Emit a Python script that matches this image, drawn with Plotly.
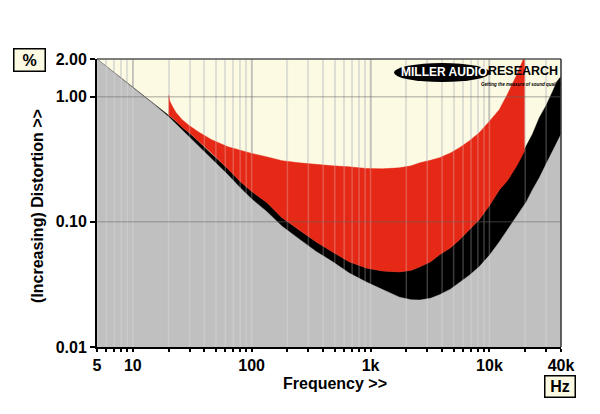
import math
import plotly.graph_objects as go

# ---------------- data ----------------
freq_floor = [5, 6, 8, 10, 12.5, 15, 20, 25, 33, 45, 63, 80, 100, 135, 180, 250, 350, 480,
              660, 920, 1260, 1750, 2200, 2600, 3200, 3800, 4700, 5600, 6800, 8200, 10000,
              12100, 14700, 17900, 20500, 23000, 26300, 30000, 34000, 37000, 40000]
floor_pct = [2.0, 1.73, 1.40, 1.18, 1.0, 0.87, 0.69, 0.56, 0.437, 0.326, 0.238, 0.187, 0.152,
             0.12, 0.092, 0.073, 0.0578, 0.048, 0.039, 0.033, 0.029, 0.025, 0.0238, 0.0237,
             0.0245, 0.0261, 0.029, 0.0325, 0.0375, 0.0437, 0.054, 0.069, 0.09, 0.118, 0.145,
             0.18, 0.225, 0.29, 0.37, 0.43, 0.5]

freq_black = [5, 10, 15, 20, 25, 33, 45, 63, 80, 100, 135, 180, 250, 350, 480, 660, 920, 1260,
              1750, 2200, 2600, 3200, 3800, 4700, 5600, 6800, 8200, 10000, 12100, 14700,
              17000, 19300, 20500, 23000, 26300, 30000, 34000, 37000, 40000]
black_pct = [2.0, 1.18, 0.88, 0.71, 0.59, 0.47, 0.355, 0.265, 0.21, 0.175, 0.142, 0.108, 0.086,
             0.069, 0.0574, 0.048, 0.0428, 0.0405, 0.0398, 0.041, 0.0437, 0.048, 0.0545, 0.062,
             0.0718, 0.086, 0.104, 0.135, 0.18, 0.225, 0.29, 0.363, 0.413, 0.50, 0.68, 0.85,
             1.10, 1.32, 1.45]

freq_red = [20, 20.5, 21.5, 23, 26, 30, 36, 46, 63, 80, 100, 135, 180, 250, 350, 480, 660, 920,
            1260, 1750, 2200, 2600, 3200, 3800, 4700, 5600, 6800, 8200, 10000, 12100, 14000,
            15600, 17000, 18000, 19000, 19800]
red_low = [0.71, 0.70, 0.68, 0.64, 0.57, 0.515, 0.44, 0.355, 0.265, 0.21, 0.175, 0.142, 0.108,
           0.086, 0.069, 0.0574, 0.048, 0.0428, 0.0405, 0.0398, 0.041, 0.0437, 0.048, 0.0545,
           0.062, 0.0718, 0.086, 0.104, 0.135, 0.18, 0.21, 0.245, 0.28, 0.31, 0.345, 0.37]
red_high = [1.03, 0.92, 0.84, 0.75, 0.655, 0.585, 0.52, 0.453, 0.398, 0.372, 0.352, 0.33, 0.308,
            0.296, 0.286, 0.28, 0.275, 0.267, 0.265, 0.27, 0.28, 0.296, 0.31, 0.325, 0.355,
            0.391, 0.445, 0.515, 0.635, 0.787, 1.02, 1.247, 1.5, 1.71, 1.92, 2.3]

x_label_vals = [5, 10, 100, 1000, 10000, 40000]
x_label_text = ["5", "10", "100", "1k", "10k", "40k"]
y_tick_vals = [0.01, 0.1, 1, 2]
y_tick_text = ["0.01", "0.10", "1.00", "2.00"]
y_grid_vals = [0.1, 1]
decade_vals = [10, 100, 1000, 10000]
X_MIN, X_MAX = 5, 40000
Y_MIN, Y_MAX = 0.01, 2

grid_freqs = sorted({m * 10 ** e for e in range(0, 5) for m in range(1, 10)
                     if X_MIN <= m * 10 ** e <= X_MAX})
x_tick_text = [x_label_text[x_label_vals.index(f)] if f in x_label_vals else "" for f in grid_freqs]

# ---------------- styling ----------------
CREAM = "#FCFAE3"
GRAY = "#C0C0C0"
RED = "#E52916"
FONT = "Liberation Sans"


def vlines(vals):
    xs, ys = [], []
    for v in vals:
        xs += [v, v, None]
        ys += [Y_MIN, Y_MAX, None]
    return xs, ys


def hlines(vals):
    xs, ys = [], []
    for v in vals:
        xs += [X_MIN, X_MAX, None]
        ys += [v, v, None]
    return xs, ys


fig = go.Figure()

# decade grid lines (below the fills)
dx, dy = vlines(decade_vals)
fig.add_trace(go.Scatter(x=dx, y=dy, mode="lines", line=dict(color="#B4B4AA", width=1.5),
                         hoverinfo="skip"))

# black band (upper THD curve) filled down
fig.add_trace(go.Scatter(x=freq_black, y=black_pct, mode="lines", fill="tozeroy",
                         fillcolor="#000000", line=dict(color="#000000", width=0.5),
                         hoverinfo="skip"))
# grey noise floor filled down
fig.add_trace(go.Scatter(x=freq_floor, y=floor_pct, mode="lines", fill="tozeroy",
                         fillcolor=GRAY, line=dict(color=GRAY, width=0.5), hoverinfo="skip"))
# red band
fig.add_trace(go.Scatter(x=freq_red, y=red_low, mode="lines", line=dict(color=RED, width=0.5),
                         hoverinfo="skip"))
fig.add_trace(go.Scatter(x=freq_red, y=red_high, mode="lines", fill="tonexty", fillcolor=RED,
                         line=dict(color=RED, width=0.5), hoverinfo="skip"))

# translucent grid over the fills
gx, gy = vlines(grid_freqs)
fig.add_trace(go.Scatter(x=gx, y=gy, mode="lines",
                         line=dict(color="rgba(235,235,235,0.25)", width=1.5), hoverinfo="skip"))
hx, hy = hlines(y_grid_vals)
fig.add_trace(go.Scatter(x=hx, y=hy, mode="lines",
                         line=dict(color="rgba(100,100,100,0.38)", width=1.5), hoverinfo="skip"))

tick_font = dict(family=FONT, size=16, color="black", weight="bold")


def note(text, x, y, size=16, color="black", **kw):
    return dict(text=text, xref="paper", yref="paper", x=x, y=y, xanchor="center",
                yanchor="middle", showarrow=False,
                font=dict(family=FONT, size=size, color=color, weight="bold"), **kw)


# page body has an 8px margin, so the figure is 8px smaller and margins shifted by 8px
fig.update_layout(
    width=592, height=406,
    margin=dict(l=89, r=39, t=51, b=67),
    paper_bgcolor="white", plot_bgcolor=CREAM,
    showlegend=False,
    xaxis=dict(type="log", range=[math.log10(X_MIN), math.log10(X_MAX)],
               tickvals=grid_freqs, ticktext=x_tick_text, ticks="outside", ticklen=3,
               tickwidth=1.5, tickcolor="black", showgrid=True, gridcolor="#DCDCCF",
               gridwidth=1.5, showline=True, linecolor="black", linewidth=2,
               zeroline=False, tickfont=tick_font, fixedrange=True),
    yaxis=dict(type="log", range=[math.log10(Y_MIN), math.log10(Y_MAX)],
               tickvals=y_tick_vals, ticktext=y_tick_text, ticks="outside", ticklen=5,
               tickwidth=1.5, tickcolor="black", showgrid=False, showline=True,
               linecolor="black", linewidth=2, zeroline=False, tickfont=tick_font,
               fixedrange=True),
    shapes=[
        dict(type="line", xref="paper", yref="paper", x0=0, x1=1, y0=1, y1=1,
             line=dict(color="#555555", width=1.5), layer="above"),
        dict(type="line", xref="paper", yref="paper", x0=1, x1=1, y0=0, y1=1,
             line=dict(color="#333333", width=1.5), layer="above"),
        dict(type="circle", xref="paper", yref="paper", x0=0.640, x1=0.847, y0=0.920, y1=0.986,
             fillcolor="black", line=dict(color="black", width=0), layer="above"),
    ],
    annotations=[
        note("Frequency >>", 0.513, -0.128),
        note("(Increasing) Distortion >>", -0.127, 0.49, textangle=-90),
        note("%", -0.1455, 0.9948, width=28, height=19, borderpad=1, bordercolor="black",
             borderwidth=1.5, bgcolor=CREAM),
        note("Hz", 0.998, -0.137, width=27, height=18, borderpad=1, bordercolor="black",
             borderwidth=1.5, bgcolor=CREAM),
        note("MILLER AUDIO", 0.748, 0.955, size=12, color="white"),
        note("RESEARCH", 0.918, 0.958, size=12.5),
        note("<i>Getting the measure of sound quality</i>", 0.913, 0.912, size=4.5),
    ],
)

fig.write_html("out.html")
